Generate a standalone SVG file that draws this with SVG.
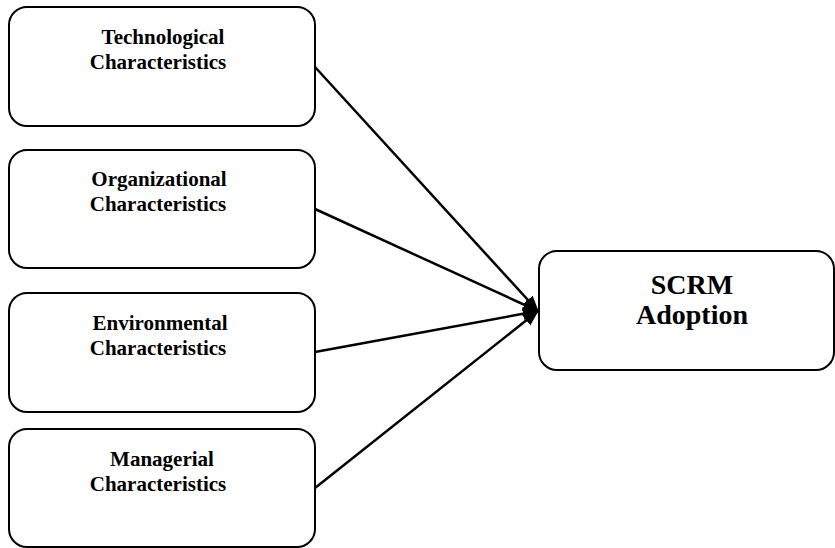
<svg xmlns="http://www.w3.org/2000/svg" width="835" height="548" viewBox="0 0 835 548">
<style>
.box{fill:#fff;stroke:#000;stroke-width:2}
.t{font-family:"Liberation Serif",serif;font-weight:bold;font-size:21px;text-anchor:middle;fill:#000}
.big{font-size:28px}
.c{stroke:#000;stroke-width:2.5;fill:none;marker-end:url(#ah)}
</style>
<defs>
<marker id="ah" markerWidth="18" markerHeight="14" refX="15" refY="6.5" orient="auto" markerUnits="userSpaceOnUse">
<path d="M0,0 L16,6.5 L0,13 Z" fill="#000"/>
</marker>
</defs>
<g id="connectors">
<line class="c" x1="315" y1="67" x2="538" y2="311"/>
<line class="c" x1="315" y1="209" x2="538" y2="311"/>
<line class="c" x1="315" y1="352" x2="538" y2="311"/>
<line class="c" x1="315" y1="488" x2="538" y2="311"/>
</g>
<g id="tech">
<rect class="box" x="9" y="7" width="306" height="119" rx="18"/>
<text class="t" x="163" y="44">Technological</text>
<text class="t" x="158" y="69">Characteristics</text>
</g>
<g id="org">
<rect class="box" x="9" y="150" width="306" height="118" rx="18"/>
<text class="t" x="159" y="186">Organizational</text>
<text class="t" x="158" y="211">Characteristics</text>
</g>
<g id="env">
<rect class="box" x="9" y="293" width="306" height="119" rx="18"/>
<text class="t" x="160" y="330">Environmental</text>
<text class="t" x="158" y="355">Characteristics</text>
</g>
<g id="man">
<rect class="box" x="9" y="429" width="306" height="118" rx="18"/>
<text class="t" x="162" y="466">Managerial</text>
<text class="t" x="158" y="491">Characteristics</text>
</g>
<g id="scrm">
<rect class="box" x="539" y="251" width="295" height="119" rx="18"/>
<text class="t big" x="692" y="294">SCRM</text>
<text class="t big" x="692" y="324">Adoption</text>
</g>
</svg>
